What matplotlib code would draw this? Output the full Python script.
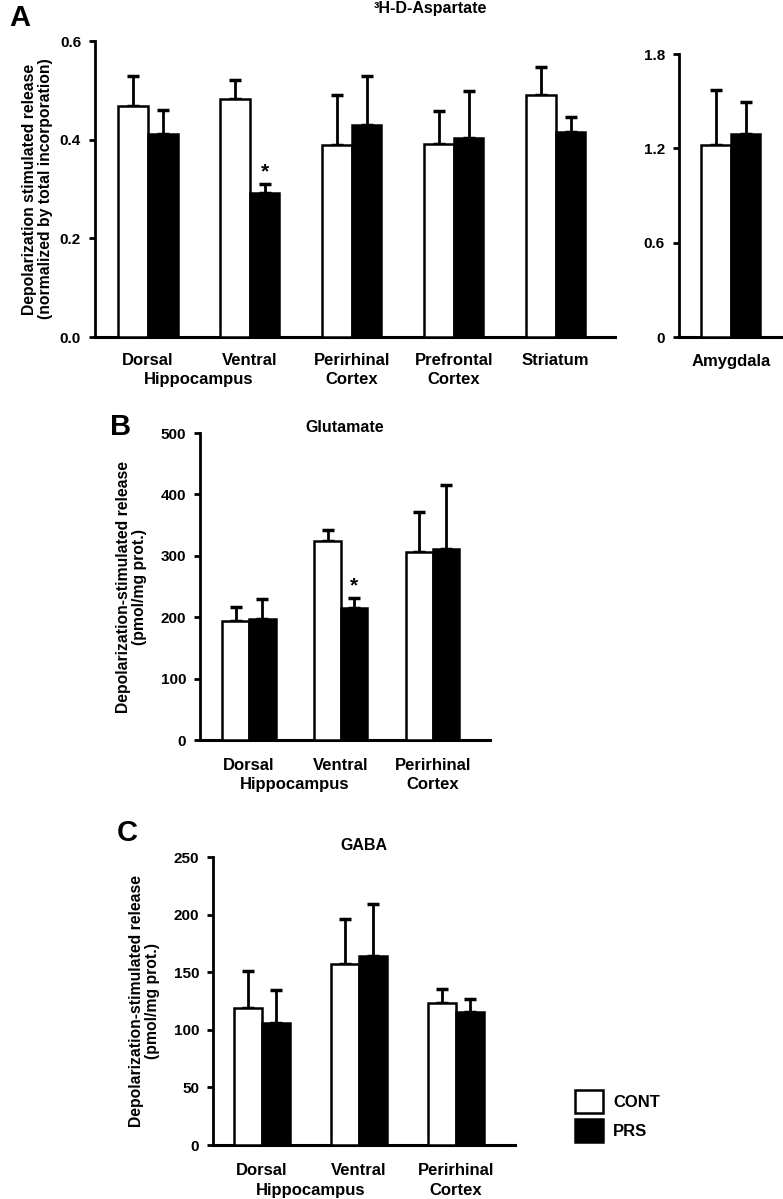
import matplotlib.pyplot as plt
import numpy as np

plt.rcParams['font.family'] = ['Liberation Sans', 'DejaVu Sans']
plt.rcParams['font.weight'] = 'bold'

# Panel A: 3H-D-Aspartate
regions_a = ['Dorsal', 'Ventral', 'Perirhinal', 'Prefrontal', 'Striatum']
regions_a2 = ['', '', 'Cortex', 'Cortex', '']
asp_cont = [0.469, 0.483, 0.389, 0.392, 0.491]
asp_cont_err = [0.529, 0.521, 0.491, 0.458, 0.548]
asp_prs = [0.412, 0.292, 0.430, 0.404, 0.416]
asp_prs_err = [0.460, 0.310, 0.529, 0.498, 0.446]
amy_cont = [1.221]
amy_cont_err = [1.571]
amy_prs = [1.29]
amy_prs_err = [1.495]

# Panels B and C
regions_bc = ['Dorsal', 'Ventral', 'Perirhinal']
regions_bc2 = ['', '', 'Cortex']

# Panel B: Glutamate
glu_cont = [194, 325, 307]
glu_cont_err = [217, 342, 371]
glu_prs = [197, 215, 311]
glu_prs_err = [229, 231, 415]

# Panel C: GABA
gaba_cont = [119, 157, 123]
gaba_cont_err = [151, 196, 136]
gaba_prs = [106, 164, 115.5]
gaba_prs_err = [134.6, 209, 127]

W = 0.29


def draw_bars(ax, cont, cont_top, prs, prs_top):
    x = np.arange(len(cont))
    cont = np.array(cont)
    prs = np.array(prs)
    ax.bar(x - W / 2, cont, W, color='white', edgecolor='black', linewidth=1.8, zorder=3)
    ax.bar(x + W / 2, prs, W, color='black', edgecolor='black', linewidth=1.8, zorder=3)
    ax.errorbar(x - W / 2, cont, yerr=[np.zeros(len(x)), np.array(cont_top) - cont],
                fmt='none', ecolor='black', elinewidth=2, capsize=4, capthick=2.5, zorder=2)
    ax.errorbar(x + W / 2, prs, yerr=[np.zeros(len(x)), np.array(prs_top) - prs],
                fmt='none', ecolor='black', elinewidth=2, capsize=4, capthick=2.5, zorder=2)
    return x


def style(ax):
    for s in ['top', 'right']:
        ax.spines[s].set_visible(False)
    ax.spines['left'].set_linewidth(2)
    ax.spines['bottom'].set_linewidth(2.2)
    ax.tick_params(axis='y', direction='out', length=4, width=2, labelsize=11, pad=6)
    ax.set_xticks([])
    for lab in ax.get_yticklabels():
        lab.set_fontweight('bold')


def xlabels(ax, pos, line1, line2, d1, d2, hippo=True):
    # category names under the axis, offsets in pixels below the x axis
    for p, a, b in zip(pos, line1, line2):
        ax.annotate(a, xy=(p, 0), xycoords=ax.get_xaxis_transform(), xytext=(0, -d1 * 0.72),
                    textcoords='offset points', ha='center', va='center', fontsize=12, fontweight='bold')
        if b:
            ax.annotate(b, xy=(p, 0), xycoords=ax.get_xaxis_transform(), xytext=(0, -d2 * 0.72),
                        textcoords='offset points', ha='center', va='center', fontsize=12, fontweight='bold')
    if hippo:
        ax.annotate('Hippocampus', xy=(0.5, 0), xycoords=ax.get_xaxis_transform(), xytext=(0, -d2 * 0.72),
                    textcoords='offset points', ha='center', va='center', fontsize=12, fontweight='bold')


fig = plt.figure(figsize=(7.83, 11.99), dpi=100)

ylab_font = dict(fontsize=11.3, fontweight='bold', linespacing=1.05)

# ---- A main
axA = fig.add_axes([0.1213, 0.7189, 0.664, 0.2469])
x = draw_bars(axA, asp_cont, asp_cont_err, asp_prs, asp_prs_err)
axA.set_xlim(-0.52, 4.58)
axA.set_ylim(0, 0.6)
axA.set_yticks([0.0, 0.2, 0.4, 0.6])
axA.set_yticklabels(['0.0', '0.2', '0.4', '0.6'])
style(axA)
xlabels(axA, x, regions_a, regions_a2, 23, 42)
axA.text(1 + W / 2, asp_prs_err[1] + 0.005, '*', ha='center', va='bottom', fontsize=15, fontweight='bold')
axA.set_ylabel('Depolarization stimulated release\n(normalized by total incorporation)', labelpad=5, **ylab_font)
fig.text(430 / 783, 1 - 9 / 1199, '³H-D-Aspartate', ha='center', va='center', fontsize=11.5,
         fontweight='bold')

# ---- A amygdala
axM = fig.add_axes([0.867, 0.7189, 0.1315, 0.236])
xm = draw_bars(axM, amy_cont, amy_cont_err, amy_prs, amy_prs_err)
axM.set_xlim(-0.51, 0.5)
axM.set_ylim(0, 1.8)
axM.set_yticks([0, 0.6, 1.2, 1.8])
axM.set_yticklabels(['0', '0.6', '1.2', '1.8'])
style(axM)
xlabels(axM, xm, ['Amygdala'], [''], 24, 44, hippo=False)

# ---- B
axB = fig.add_axes([0.2554, 0.3828, 0.370, 0.256])
x = draw_bars(axB, glu_cont, glu_cont_err, glu_prs, glu_prs_err)
axB.set_xlim(-0.533, 2.62)
axB.set_ylim(0, 500)
axB.set_yticks(range(0, 501, 100))
style(axB)
xlabels(axB, x, regions_bc, regions_bc2, 25, 44)
axB.text(1 + W / 2, glu_prs_err[1] + 4, '*', ha='center', va='bottom', fontsize=15, fontweight='bold')
axB.set_ylabel('Depolarization-stimulated release\n(pmol/mg prot.)', labelpad=10, **ylab_font)
axB.text(0.5, 1 + 6 / 307, 'Glutamate', transform=axB.transAxes, ha='center', va='center',
         fontsize=11.5, fontweight='bold')

# ---- C
axC = fig.add_axes([0.272, 0.045, 0.3857, 0.240])
x = draw_bars(axC, gaba_cont, gaba_cont_err, gaba_prs, gaba_prs_err)
axC.set_xlim(-0.505, 2.61)
axC.set_ylim(0, 250)
axC.set_yticks(range(0, 251, 50))
style(axC)
xlabels(axC, x, regions_bc, regions_bc2, 25, 45)
axC.set_ylabel('Depolarization-stimulated release\n(pmol/mg prot.)', labelpad=10, **ylab_font)
axC.text(0.5, 1 + 12 / 288, 'GABA', transform=axC.transAxes, ha='center', va='center',
         fontsize=11.5, fontweight='bold')

# legend
hc = plt.Rectangle((0, 0), 1, 1, facecolor='white', edgecolor='black', linewidth=1.8)
hp = plt.Rectangle((0, 0), 1, 1, facecolor='black', edgecolor='black', linewidth=1.8)
fig.legend([hc, hp], ['CONT', 'PRS'], loc='upper left', bbox_to_anchor=(0.715, 0.1033),
           frameon=False, handlelength=1.7, handleheight=1.7,
           handletextpad=0.6, labelspacing=0.4, prop={'weight': 'bold', 'size': 12})

# panel letters
for lab, px, py in [('A', 9, 18), ('B', 110, 427), ('C', 117, 833)]:
    fig.text(px / 783, 1 - py / 1199, lab, fontsize=21, fontweight='bold', ha='left', va='center')

fig.savefig('out.png', dpi=100)
